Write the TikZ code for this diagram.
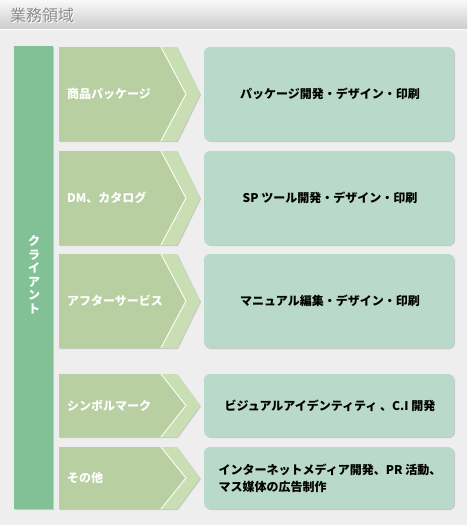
\documentclass[tikz,border=0pt]{standalone}
\usepackage{fontspec}
\setmainfont{Noto Sans CJK JP}
\usepackage{xcolor}
\usepackage{tikz}
\usetikzlibrary{calc}

\definecolor{pagebg}{HTML}{EEEEEE}
\definecolor{clientgreen}{HTML}{82C195}
\definecolor{chevdark}{HTML}{B8CFA2}
\definecolor{chevlight}{HTML}{C9DEB2}
\definecolor{boxgreen}{HTML}{B9D9CA}
\definecolor{titlegray}{HTML}{8C8C8C}
\definecolor{shadowgray}{HTML}{C8C8C8}

\tikzset{
	titletext/.style={font=\fontsize{16}{18}\selectfont, anchor=west, inner sep=0pt},
	clienttext/.style={text=white, font=\fontsize{12}{13.5}\selectfont\bfseries, align=center, inner sep=0pt},
	itemtext/.style={text=white, font=\fontsize{12}{14}\selectfont\bfseries, anchor=west, inner sep=0pt},
	worktext/.style={text=black, font=\fontsize{12}{17}\selectfont\bfseries, align=left, inner sep=0pt}
}

\begin{document}
\begin{tikzpicture}[x=1pt, y=-1pt]
			\useasboundingbox (0,0) rectangle (467,525);
			\fill[pagebg] (0,0) rectangle (467,525);
			% header bar
			\shade[top color=white!95!gray, bottom color=black!20] (0,0) rectangle (467,29);
			\draw[white] (0,29.5) -- (467,29.5);
			\node[titletext, text=white] (titleshade) at (11,16) {業務領域};
			\node[titletext, text=titlegray] (title) at (10,15) {業務領域};
			% client column
			\fill[shadowgray] (15,47) rectangle (54,510);
			\fill[clientgreen] (14,46) rectangle (53,509);
			\node[clienttext] (client) at (34,275) {ク\\ラ\\イ\\ア\\ン\\ト};
			% rows
			\foreach \i/\ytop/\ybot/\item/\work in {
				1/47/141/{商品パッケージ}/{パッケージ開発・デザイン・印刷},
				2/151/245/{DM、カタログ}/{SP ツール開発・デザイン・印刷},
				3/254/348/{アフターサービス}/{マニュアル編集・デザイン・印刷},
				4/374/437/{シンボルマーク}/{ビジュアルアイデンティティ 、C.I 開発},
				5/447/509/{その他}/{インターネットメディア開発、PR 活動、\\マス媒体の広告制作}}
			{
				\pgfmathsetmacro\ymid{(\ytop+\ybot)/2}
				\fill[shadowgray] (60,\ytop+1) -- (178,\ytop+1) -- (201,\ymid+1) -- (178,\ybot+1) -- (60,\ybot+1) -- cycle;
				\fill[chevlight] (59,\ytop) -- (177,\ytop) -- (200,\ymid) -- (177,\ybot) -- (59,\ybot) -- cycle;
				\fill[chevdark] (59,\ytop) -- (160,\ytop) -- (185,\ymid) -- (160,\ybot) -- (59,\ybot) -- cycle;
				\draw[white, line width=0.8pt] (161,\ytop) -- (186,\ymid) -- (161,\ybot);
				\fill[shadowgray, rounded corners=6] (205,\ytop+1) rectangle (455,\ybot+1);
				\fill[boxgreen, rounded corners=6] (204,\ytop) rectangle (454,\ybot);
				\node[itemtext] (item\i) at (67,\ymid) {\item};
				\node[worktext] (work\i) at (330,\ymid) {\work};
			}
		\end{tikzpicture}
\end{document}
